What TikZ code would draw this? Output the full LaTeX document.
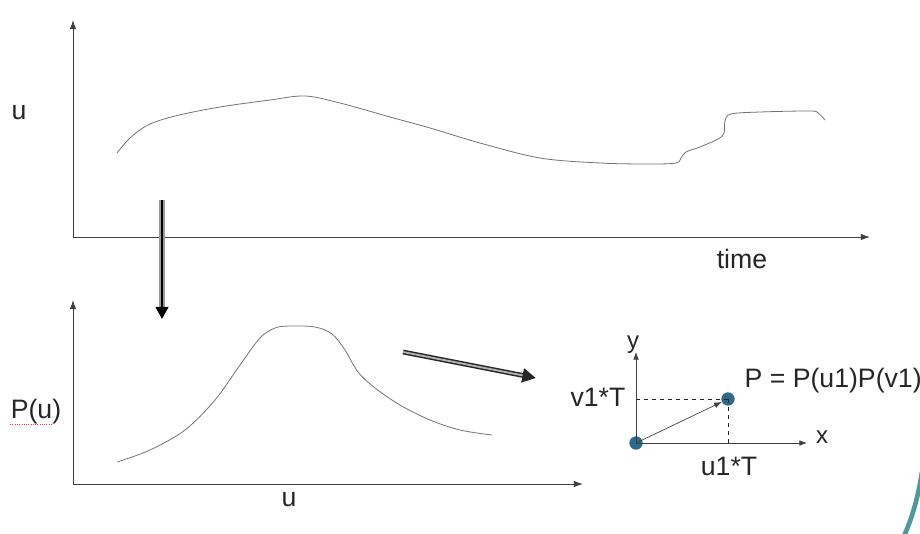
\documentclass[tikz,border=0pt]{standalone}
\usepackage{fontspec}
\setmainfont{Liberation Sans}
\usetikzlibrary{arrows.meta,positioning,calc}
\definecolor{dotblue}{HTML}{2E6A8C}
\definecolor{slideteal}{HTML}{4E9A9A}
\tikzset{
  axis/.style={-{Latex[length=2.4mm,width=1.7mm]}, line width=0.7pt, draw=black!75},
  smallaxis/.style={-{Latex[length=2mm,width=1.5mm]}, line width=0.6pt, draw=black!75},
  curve/.style={line width=0.6pt, draw=black!55},
  lbl/.style={font=\fontsize{20}{23}\selectfont, text=black!85, inner sep=1pt},
  guide/.style={dashed, line width=0.5pt, draw=black!85},
  dot/.style={circle, fill=dotblue, minimum size=10pt, inner sep=0pt},
  bigdown/.style={-{Triangle[length=3.2mm,width=3.4mm]}, line width=1.4pt, draw=black,
    preaction={draw=black!40, line width=4pt, -, shorten >=3mm}},
  hatched/.style={-{Triangle[length=3.6mm,width=3.6mm]}, line width=3.6pt, draw=black!85,
    postaction={draw=black!30, line width=1.4pt, -, shorten >=3.6mm}}
}
\begin{document}
\begin{tikzpicture}[x=0.75pt,y=-0.75pt]
\useasboundingbox (0,0) rectangle (920,533);
% upper plot: u over time
\coordinate (o1) at (73,237);
\coordinate (y1) at (73,20);
\coordinate (x1) at (870,237);
\draw[axis] (o1) -- (y1);
\draw[axis] (o1) -- (x1);
\node[lbl] (lu) at (19,113) {u};
\node[lbl] (ltime) at (742,259) {time};
\draw[curve] plot[smooth, tension=0.55] coordinates {(117,153) (130,138) (148,125) (175,116) (220,107)
  (270,100) (305,96) (340,103) (390,117) (430,128) (480,143) (540,158) (600,163) (650,164) (676,163)
  (681,158) (686,152) (700,147) (718,139) (724,133) (725,121) (731,114) (760,112) (810,111)
  (818,113) (825,120)};
% step down to the distribution
\coordinate (d1) at (162,200);
\coordinate (d2) at (162,319);
\draw[bigdown] (d1) -- (d2);
% lower plot: P(u)
\coordinate (o2) at (73,484);
\coordinate (y2) at (73,300);
\coordinate (x2) at (583,484);
\draw[axis] (o2) -- (y2);
\draw[axis] (o2) -- (x2);
\node[lbl] (lpu) at (36,412) {P(u)};
\draw[red!80, densely dotted, line width=0.7pt] ($(lpu.south west)+(1,-2)$) -- ($(lpu.south west)+(42,-2)$);
\node[lbl] (lu2) at (289,500) {u};
\draw[curve] plot[smooth, tension=0.55] coordinates {(117,462) (150,450) (185,430) (215,400) (240,365)
  (260,338) (275,328) (290,326) (315,327) (332,334) (345,350) (358,372) (375,388) (400,405)
  (430,420) (460,430) (492,435)};
% on to the joint probability
\coordinate (h1) at (403,352);
\coordinate (h2) at (536,378);
\draw[hatched] (h1) -- (h2);
% small x-y sketch
\node[dot] (org) at (636,443) {};
\node[dot] (pt) at (728,399) {};
\coordinate (ytop) at (636,352);
\coordinate (xend) at (807,443);
\draw[smallaxis] (org.center) -- (ytop);
\draw[smallaxis] (org.center) -- (xend);
\node[lbl, font=\fontsize{18}{21}\selectfont] (ly) at (633,345) {y};
\node[lbl, font=\fontsize{18}{21}\selectfont] (lx) at (822,437) {x};
\coordinate (yv) at (636,399);
\coordinate (xu) at (728,443);
\draw[guide] (yv) -- (pt.center);
\draw[guide] (pt.center) -- (xu);
\draw[smallaxis, line width=0.5pt] (org.center) -- (pt);
\node[lbl, anchor=east] (lv) at (627,397) {v1*T};
\node[lbl] (lu1) at (729,466) {u1*T};
\node[lbl, anchor=west] (lp) at (743,381) {P = P(u1)P(v1)};
% slide decoration
\draw[slideteal, line width=3.5pt] (922,472) .. controls (918,498) and (912,518) .. (904,536);
\end{tikzpicture}
\end{document}
